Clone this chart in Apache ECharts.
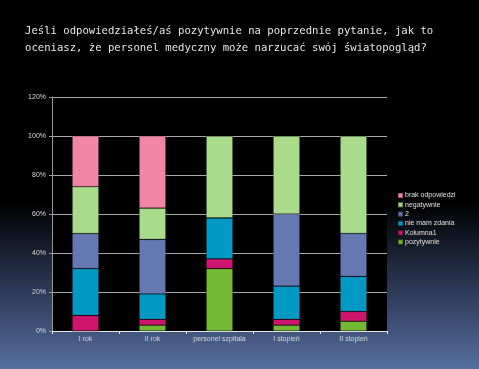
<!DOCTYPE html>
<html><head><meta charset="utf-8">
<script src="https://cdn.jsdelivr.net/npm/echarts@6/dist/echarts.min.js"></script>
<style>html,body{margin:0;padding:0;background:#000}#c{width:479px;height:369px}</style>
</head><body><div id="c"></div>
<script>
const categories = ['I rok', 'II rok', 'personel szpitala', 'I stopień', 'II stopień'];
const pozytywnie = [0, 3, 32, 3, 5];
const kolumna1 = [8, 3, 5, 3, 5];
const nieMamZdania = [24, 13, 21, 17, 18];
const dwa = [18, 28, 0, 37, 22];
const negatywnie = [24, 16, 42, 40, 50];
const brakOdpowiedzi = [26, 37, 0, 0, 0];
const yTicks = [0, 20, 40, 60, 80, 100, 120];

const seriesDefs = [
  ['pozytywnie', pozytywnie, '#74b935'],
  ['Kolumna1', kolumna1, '#d0156f'],
  ['nie mam zdania', nieMamZdania, '#0299c5'],
  ['2', dwa, '#6478b1'],
  ['negatywnie', negatywnie, '#a8db8a'],
  ['brak odpowiedzi', brakOdpowiedzi, '#f185a6']
];

const chart = echarts.init(document.getElementById('c'));
chart.setOption({
  backgroundColor: {
    type: 'linear', x: 0, y: 0, x2: 0, y2: 1,
    colorStops: [
      {offset: 0, color: '#000000'},
      {offset: 0.55, color: '#000000'},
      {offset: 0.75, color: '#25304a'},
      {offset: 1, color: '#566e9f'}
    ]
  },
  title: {
    text: 'Jeśli odpowiedziałeś/aś pozytywnie na poprzednie pytanie, jak to\noceniasz, że personel medyczny może narzucać swój światopogląd?',
    left: 25, top: 23, padding: 0,
    textStyle: {fontFamily: 'DejaVu Sans Mono', fontSize: 10.6, fontWeight: 'normal', color: '#e6e6e6', lineHeight: 17}
  },
  legend: {
    orient: 'vertical', left: 392, top: 187,
    itemWidth: 5, itemHeight: 5, itemGap: 2.3,
    icon: 'rect',
    data: ['brak odpowiedzi', 'negatywnie', '2', 'nie mam zdania', 'Kolumna1', 'pozytywnie'],
    textStyle: {fontFamily: 'Liberation Sans', fontSize: 7, color: '#e0e0e0', padding: [0, 0, 0, -3]}
  },
  grid: {left: 52, right: 92, top: 97, bottom: 38, show: true, backgroundColor: '#000', borderWidth: 0},
  xAxis: {
    type: 'category', data: categories,
    axisLine: {lineStyle: {color: '#e8e8e8', width: 1}},
    axisTick: {show: true, length: 3, lineStyle: {color: '#e8e8e8'}},
    axisLabel: {fontFamily: 'Liberation Sans', fontSize: 7, color: '#d8d8d8', margin: 5, interval: 0}
  },
  yAxis: {
    type: 'value', min: 0, max: 120, interval: 20,
    axisLine: {show: true, lineStyle: {color: '#9a9a9a', width: 1}},
    axisTick: {show: true, length: 3, lineStyle: {color: '#9a9a9a'}},
    splitLine: {lineStyle: {color: '#a8a8a8', width: 1}},
    axisLabel: {fontFamily: 'Liberation Sans', fontSize: 7, color: '#d8d8d8', margin: 6,
      formatter: v => yTicks.includes(v) ? v + '%' : ''}
  },
  series: seriesDefs.map(([name, data, color]) => ({
    name, type: 'bar', stack: 'total', data, barWidth: '40%',
    itemStyle: {color, borderColor: 'rgba(0,0,0,0.35)', borderWidth: 0.6},
    emphasis: {disabled: true}
  })),
  animation: false
});
</script></body></html>
